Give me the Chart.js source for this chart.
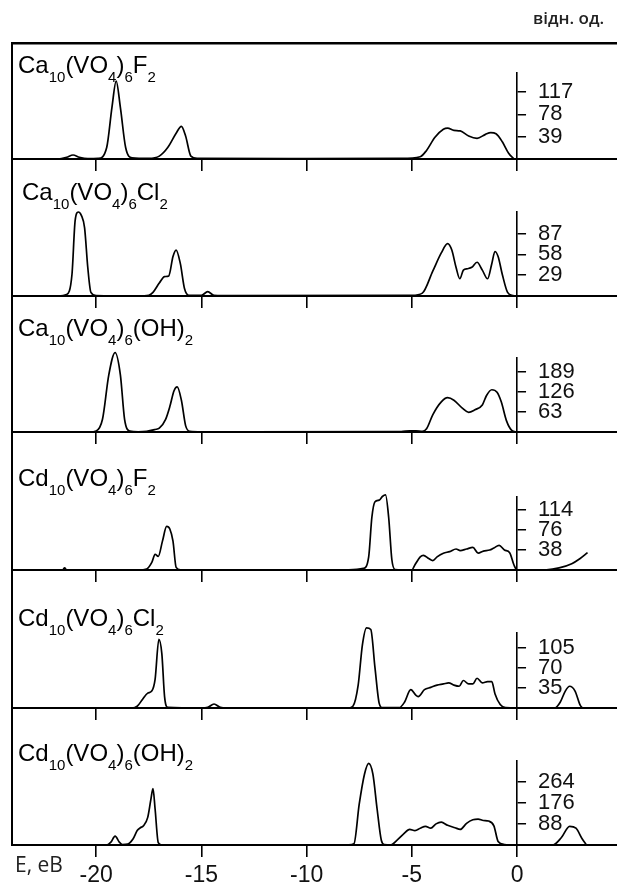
<!DOCTYPE html>
<html><head><meta charset="utf-8">
<script src="https://cdn.jsdelivr.net/npm/chart.js@4.4.1/dist/chart.umd.min.js"></script>
<style>
html,body{margin:0;padding:0;background:#fff;width:617px;height:885px;overflow:hidden;position:relative;}
canvas{position:absolute;left:0;}
.f{position:absolute;font-family:"Liberation Sans",Arial,sans-serif;font-size:24px;color:#000;white-space:nowrap;line-height:24px;z-index:5;}
.f sub{font-size:15px;vertical-align:-9px;line-height:0;}
.t{position:absolute;font-family:"Open Sans",sans-serif;color:#222;white-space:nowrap;z-index:5;}
</style></head>
<body>
<script>
// ---------- data ----------
const xTickValues = [-20, -15, -10, -5, 0];
const xTickLabels = ['-20', '-15', '-10', '-5', '0'];
const compounds = ['Ca10(VO4)6F2', 'Ca10(VO4)6Cl2', 'Ca10(VO4)6(OH)2', 'Cd10(VO4)6F2', 'Cd10(VO4)6Cl2', 'Cd10(VO4)6(OH)2'];
const unitLabel = 'відн. од.';
const energyLabel = 'Е, еВ';

const yTicks1 = [39, 78, 117];
const yTicks2 = [29, 58, 87];
const yTicks3 = [63, 126, 189];
const yTicks4 = [38, 76, 114];
const yTicks5 = [35, 70, 105];
const yTicks6 = [88, 176, 264];
const yMax = [150, 117, 233, 139, 131, 350];

const e1 = [-24, -21.8, -21.4, -21.1, -20.8, -20.4, -19.9, -19.5, -19.25, -19.05, -18.85, -18.6, -18.3, -17.5, -17.0, -16.6, -16.2, -15.95, -15.75, -15.5, -15.2, -10, -5.5, -4.6, -4.3, -3.9, -3.5, -3.3, -3.0, -2.7, -2.3, -1.9, -1.5, -1.25, -1.0, -0.7, -0.4, -0.15];
const d1 = [0, 0, 3, 7, 3, 0.5, 1, 20, 90, 136, 90, 20, 2, 1, 5, 20, 45, 57, 40, 5, 1, 0.5, 1, 4, 15, 38, 52, 54, 50, 49, 40, 36, 43, 46, 44, 30, 10, 0];

const e2 = [-24, -21.8, -21.4, -21.15, -21.0, -20.85, -20.7, -20.55, -20.4, -20.25, -20.0, -18, -17.5, -17.3, -17.0, -16.75, -16.55, -16.35, -16.2, -16.0, -15.8, -15.6, -15.0, -14.7, -14.4, -13.5, -5.0, -4.5, -4.0, -3.6, -3.3, -3.1, -2.9, -2.72, -2.55, -2.35, -2.15, -1.9, -1.65, -1.4, -1.2, -1.05, -0.9, -0.7, -0.45, -0.2, 0];
const d2 = [0, 0, 2, 30, 105, 117, 112, 95, 40, 5, 0.5, 0, 1, 5, 18, 27, 28, 55, 64, 45, 10, 1, 1, 6, 1, 0.5, 1, 4, 35, 60, 73, 64, 40, 24, 36, 38, 40, 47, 36, 24, 45, 62, 55, 30, 5, 0.5, 0];

const e3 = [-24, -20.3, -20.0, -19.7, -19.4, -19.1, -18.85, -18.65, -18.4, -18, -17.6, -17.2, -17.0, -16.7, -16.5, -16.3, -16.15, -15.95, -15.75, -15.55, -15, -5.5, -5.1, -4.8, -4.5, -4.3, -4.0, -3.6, -3.3, -3.0, -2.6, -2.3, -2.0, -1.65, -1.45, -1.2, -0.95, -0.75, -0.5, -0.25, 0];
const d3 = [0, 0, 3, 40, 180, 250, 180, 40, 3, 0.5, 2, 8, 12, 40, 80, 130, 142, 100, 20, 2, 0.5, 1, 4, 4, 2, 10, 55, 95, 108, 100, 75, 62, 70, 85, 115, 133, 125, 95, 35, 5, 0];

const e4 = [-24, -21.6, -21.5, -21.4, -18.0, -17.6, -17.35, -17.2, -17.05, -16.85, -16.65, -16.5, -16.35, -16.2, -16.0, -8, -7.3, -7.05, -6.9, -6.75, -6.55, -6.4, -6.25, -6.1, -5.95, -5.8, -5.0, -4.85, -4.6, -4.45, -4.2, -4.0, -3.8, -3.5, -3.2, -2.9, -2.7, -2.4, -2.1, -1.85, -1.6, -1.3, -1.1, -0.85, -0.6, -0.35, -0.15, 0, 1.4, 2.0, 2.6, 3.0, 3.35];
const d4 = [0, 0, 4, 0, 0, 2, 15, 30, 26, 55, 83, 78, 55, 5, 0.5, 0.5, 3, 25, 100, 130, 133, 140, 143, 100, 20, 1, 0, 10, 25, 28, 22, 18, 25, 32, 35, 40, 37, 40, 43, 32, 36, 38, 42, 47, 38, 33, 10, 0, 0.5, 4, 12, 22, 33];

const e5 = [-24, -18.3, -18.05, -17.8, -17.55, -17.35, -17.2, -17.02, -16.88, -16.75, -16.6, -15, -14.7, -14.4, -14.1, -13.8, -8, -7.8, -7.55, -7.35, -7.15, -6.95, -6.75, -6.55, -6.4, -5.6, -5.35, -5.05, -4.8, -4.7, -4.4, -4.1, -3.8, -3.5, -3.25, -3.0, -2.75, -2.55, -2.3, -2.1, -1.9, -1.65, -1.4, -1.2, -1.05, -0.8, -0.55, 0, 1.8, 2.05, 2.3, 2.5, 2.75, 3.0, 3.1];
const d5 = [0, 0, 3, 15, 26, 30, 50, 120, 95, 20, 1, 0, 1, 7, 1, 0, 0, 3, 40, 110, 140, 137, 70, 8, 0.5, 0.5, 10, 32, 22, 20, 32, 36, 40, 42, 44, 40, 38, 48, 42, 42, 52, 44, 46, 46, 25, 6, 0.5, 0, 0, 10, 30, 38, 30, 5, 0];

const e6 = [-24, -19.5, -19.3, -19.1, -18.9, -18.75, -18.5, -18.25, -18.05, -17.9, -17.75, -17.55, -17.4, -17.3, -17.2, -17.05, -16.9, -8, -7.75, -7.5, -7.25, -7.05, -6.85, -6.65, -6.45, -6.3, -6.0, -5.7, -5.4, -5.1, -4.85, -4.6, -4.35, -4.1, -3.85, -3.6, -3.3, -2.95, -2.7, -2.4, -2.1, -1.85, -1.6, -1.35, -1.1, -0.9, -0.6, 0, 1.7, 2.1, 2.5, 2.8, 3.1, 3.3];
const d6 = [0, 0, 12, 37, 12, 2, 4, 25, 60, 72, 80, 115, 190, 235, 150, 10, 0.5, 0.5, 5, 170, 295, 340, 295, 150, 20, 2, 0, 20, 45, 65, 60, 70, 78, 70, 88, 95, 82, 72, 65, 90, 105, 108, 102, 100, 80, 15, 2, 0, 0, 30, 78, 70, 25, 0];

const energies = [e1, e2, e3, e4, e5, e6];
const dos = [d1, d2, d3, d4, d5, d6];
const yTicks = [yTicks1, yTicks2, yTicks3, yTicks4, yTicks5, yTicks6];

// ---------- layout (pixels) ----------
const W = 617;
const X_MIN = -24, X_MAX = 4.75, Y_AXIS_AT = 0;
const FRAME = {top: 43, left: 12, bottom: 845};
const panels = [
  {top: 43,  axisTop: 73,  base: 159, labX: 18, labBase: 72},
  {top: 159, axisTop: 212, base: 296, labX: 22, labBase: 199},
  {top: 296, axisTop: 358, base: 432, labX: 18, labBase: 335},
  {top: 432, axisTop: 497, base: 570, labX: 18, labBase: 485},
  {top: 570, axisTop: 633, base: 708, labX: 18, labBase: 625},
  {top: 708, axisTop: 761, base: 845, labX: 18, labBase: 760}
];
const tickFont = {family: '"Liberation Sans", Arial, sans-serif', size: 22};
// pixel where the energy = 0 axis sits (from the shared linear x mapping)
const axisPx = FRAME.left + (Y_AXIS_AT - X_MIN) / (X_MAX - X_MIN) * (W - FRAME.left);

function setTicks(vals) { return s => { s.ticks = vals.map(v => ({value: v})); }; }
function addCanvas(top, h) {
  const cv = document.createElement('canvas');
  cv.width = W; cv.height = h; cv.style.top = top + 'px';
  document.body.appendChild(cv);
  return cv;
}
const noPlugins = {legend: {display: false}, tooltip: {enabled: false}};

// frame chart: top border + left border
new Chart(addCanvas(0, 885), {
  type: 'line',
  data: {datasets: []},
  options: {
    responsive: false, animation: false, events: [],
    layout: {padding: {top: FRAME.top, left: FRAME.left, right: 0, bottom: 885 - FRAME.bottom}},
    plugins: noPlugins,
    scales: {
      x: {type: 'linear', position: 'top', min: X_MIN, max: X_MAX,
          afterFit: s => { s.height = 0; },
          grid: {display: false, drawTicks: false}, ticks: {display: false},
          border: {display: true, color: '#000', width: 2.5}},
      y: {type: 'linear', position: 'left', min: 0, max: 1,
          afterFit: s => { s.width = 0; },
          grid: {display: false, drawTicks: false}, ticks: {display: false},
          border: {display: true, color: '#000', width: 2}}
    }
  }
});

panels.forEach((g, i) => {
  const last = i === panels.length - 1;
  const axisH = last ? 40 : 14;
  const areaTop = g.axisTop - g.top, areaBottom = g.base - g.top;

  // data chart: curve + bottom energy axis
  const pts = energies[i].map((e, k) => ({x: e, y: dos[i][k]}));
  new Chart(addCanvas(g.top, areaBottom + axisH), {
    type: 'line',
    data: {datasets: [{data: pts, borderColor: '#000', borderWidth: 1.7, pointRadius: 0,
      cubicInterpolationMode: 'monotone', clip: false, fill: false}]},
    options: {
      responsive: false, animation: false, events: [],
      layout: {padding: {top: areaTop, left: FRAME.left, right: 0, bottom: 0}},
      plugins: noPlugins,
      scales: {
        x: {type: 'linear', position: 'bottom', min: X_MIN, max: X_MAX,
            afterBuildTicks: setTicks(xTickValues),
            afterFit: s => { s.height = axisH; },
            grid: {display: true, drawOnChartArea: false, drawTicks: true, tickLength: 12, color: '#000', lineWidth: 1.6},
            border: {display: true, color: '#000', width: 2},
            ticks: {display: last, autoSkip: false, padding: 5, color: '#111', font: {family: tickFont.family, size: 23},
                    callback: (v, k) => xTickLabels[k]}},
        y: {type: 'linear', display: false, min: 0, max: yMax[i]}
      }
    }
  });

  // intensity axis chart: right-hand axis sitting at E = 0
  const lc = new Chart(addCanvas(g.top, areaBottom + 14), {
    type: 'line',
    data: {datasets: []},
    options: {
      responsive: false, animation: false, events: [],
      layout: {padding: {top: areaTop, left: FRAME.left, right: 0, bottom: 14}},
      plugins: noPlugins,
      scales: {
        x: {type: 'linear', display: false, min: X_MIN, max: Y_AXIS_AT},
        y: {type: 'linear', position: 'right', min: 0, max: yMax[i],
            afterBuildTicks: setTicks(yTicks[i]),
            afterFit: s => { s.width = W - axisPx; s.paddingTop = 0; s.paddingBottom = 0; },
            grid: {display: true, drawOnChartArea: false, drawTicks: true, tickLength: 9, color: '#000', lineWidth: 1.5},
            border: {display: true, color: '#000', width: 1.6},
            ticks: {display: true, autoSkip: false, padding: 12, color: '#111', font: tickFont,
                    callback: v => String(v)}}
      }
    }
  });
  // keep the axis chart's plot area aligned with the data chart's plot area
  const dTop = lc.chartArea.top - areaTop;
  const dBot = areaBottom - lc.chartArea.bottom;
  if (Math.abs(dTop) > 0.5 || Math.abs(dBot) > 0.5) {
    lc.options.layout.padding = {top: areaTop - dTop, left: FRAME.left, right: 0, bottom: 14 - dBot};
    lc.update();
  }

  const d = document.createElement('div');
  d.className = 'f';
  d.innerHTML = compounds[i].replace(/(\d+)/g, '<sub>$1</sub>');
  d.style.left = g.labX + 'px';
  d.style.top = (g.labBase - 19) + 'px';
  document.body.appendChild(d);
});

const u = document.createElement('div');
u.className = 't'; u.textContent = unitLabel;
u.style.left = '533px'; u.style.top = '6px'; u.style.fontSize = '17px'; u.style.fontWeight = '600';
document.body.appendChild(u);
const ev = document.createElement('div');
ev.className = 't'; ev.textContent = energyLabel;
ev.style.left = '15px'; ev.style.top = '850px'; ev.style.fontSize = '21px';
document.body.appendChild(ev);
</script>
</body></html>
